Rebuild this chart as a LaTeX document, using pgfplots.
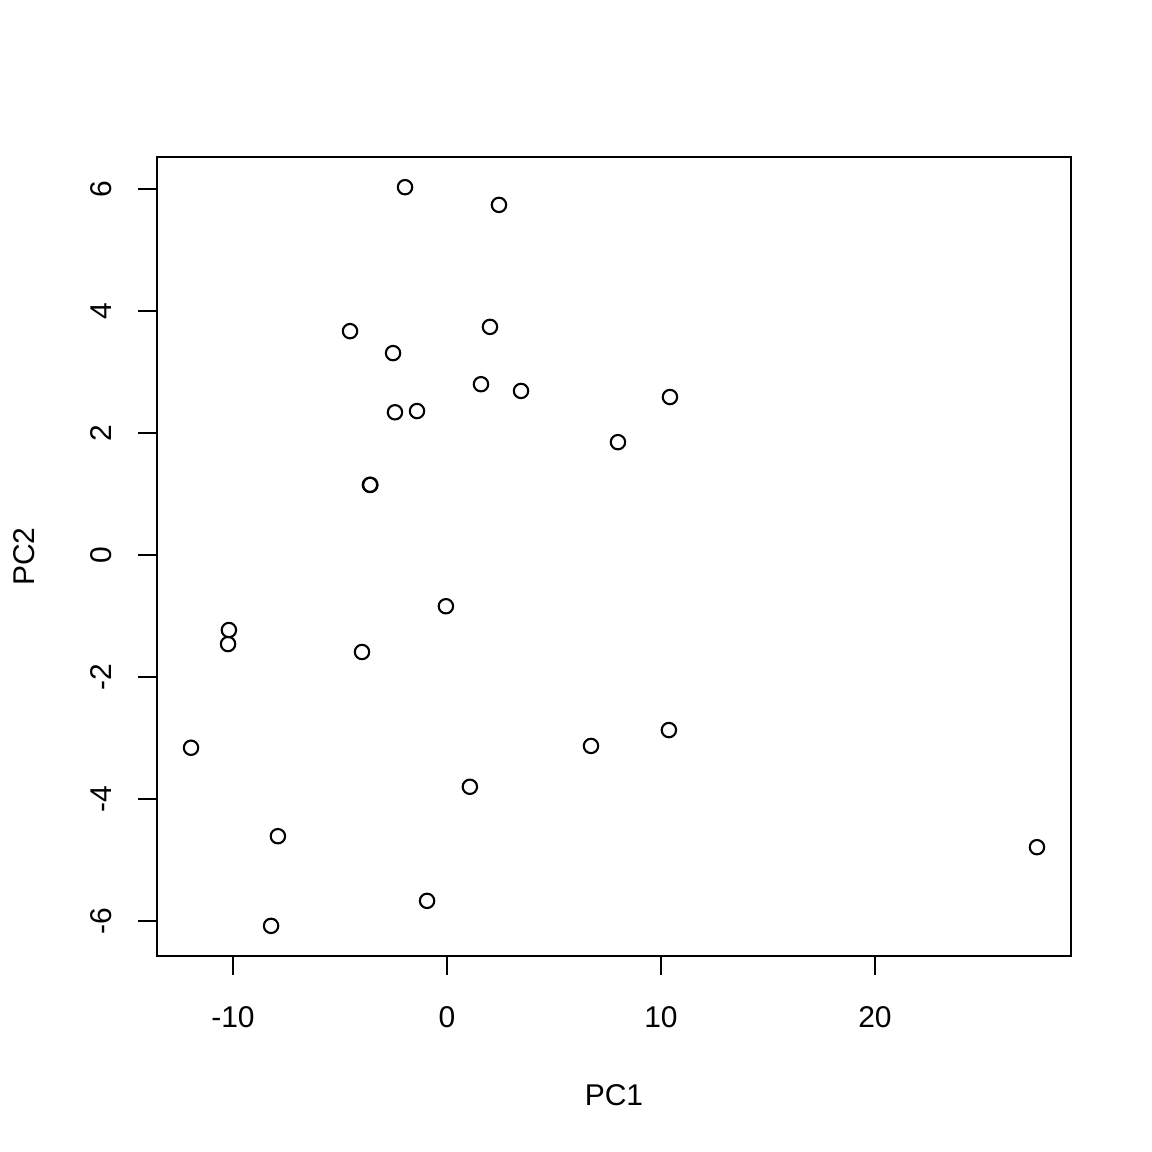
\documentclass[border=0pt]{standalone}
\usepackage{pgfplots}
\pgfplotsset{compat=1.18}
\usepackage{fontspec}
\setmainfont{Liberation Sans}
\begin{document}
\fontsize{15bp}{17bp}\selectfont
\begin{tikzpicture}
\path[use as bounding box] (0,0) rectangle (576bp,576bp);
\begin{axis}[
  at={(78.5bp,98bp)}, anchor=south west,
  width=457bp, height=399.5bp, scale only axis,
  xmin=-13.55, xmax=29.16, ymin=-6.574, ymax=6.525,
  axis line style={line width=0.75bp},
  xtick={-10,0,10,20}, xticklabels={-10,0,10,20},
  ytick={-6,-4,-2,0,2,4,6}, yticklabels={-6,-4,-2,0,2,4,6},
  xtick pos=bottom, ytick pos=left, tick align=outside,
  major tick length=9.5bp,
  tick style={line width=0.75bp, black},
  xticklabel style={anchor=north, inner sep=0pt, font=\fontsize{15bp}{17bp}\selectfont},
  yticklabel style={rotate=90, anchor=base, inner sep=0pt, font=\fontsize{15bp}{17bp}\selectfont},
  xticklabel shift=15.5bp,
  yticklabel shift=13bp,
  xlabel={PC1}, ylabel={PC2},
  xlabel style={at={(axis description cs:0.5,-0.1865)}, anchor=base, inner sep=0pt, font=\fontsize{15bp}{17bp}\selectfont},
  ylabel style={at={(axis description cs:-0.1335,0.5)}, anchor=base, inner sep=0pt, font=\fontsize{15bp}{17bp}\selectfont},
]
\addplot[only marks, mark=o, mark size=3.6bp, mark options={line width=1.05bp, black}] coordinates {
(-1.96,6.03) (2.43,5.74) (-4.53,3.67) (2.01,3.74) (-2.52,3.31)
(1.59,2.80) (3.46,2.69) (10.42,2.59) (-2.43,2.34) (-1.40,2.36)
(7.99,1.85) (-3.60,1.15) (-3.58,1.15) (-0.05,-0.84) (-10.19,-1.23)
(-10.23,-1.46) (-3.97,-1.59) (-11.96,-3.16) (6.73,-3.13) (10.37,-2.87)
(1.07,-3.80) (-7.90,-4.61) (27.57,-4.79) (-0.93,-5.67) (-8.22,-6.08)
};
\end{axis}
\end{tikzpicture}
\end{document}
